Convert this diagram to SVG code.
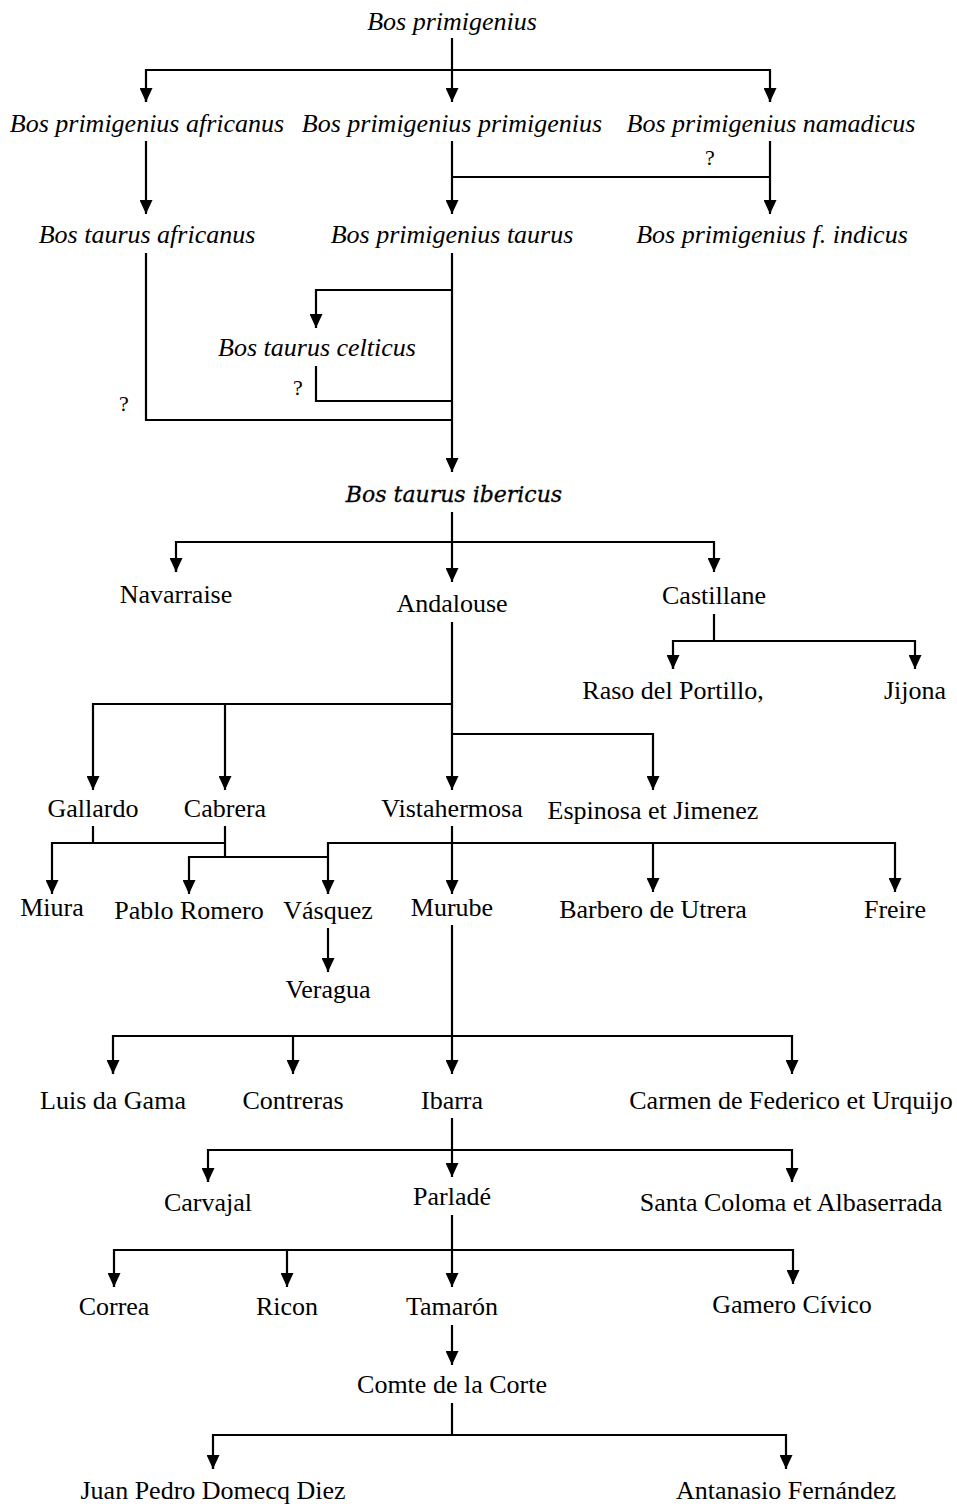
<svg xmlns="http://www.w3.org/2000/svg" width="957" height="1506" viewBox="0 0 957 1506">
<style>
text{font-family:"Liberation Serif","Times New Roman",serif;font-size:26px;fill:#000;text-anchor:middle}
.it{font-style:italic}
.ib{font-family:"DejaVu Serif",serif;font-style:italic;font-size:22px;stroke:#000;stroke-width:0.3}
.q{font-size:22px}
.c{fill:none;stroke:#000;stroke-width:2.2}
</style>
<defs>
<marker id="ah" viewBox="0 0 14 13" refX="14" refY="6.5" markerWidth="14" markerHeight="13" markerUnits="userSpaceOnUse" orient="auto">
<path d="M0,0 L14,6.5 L0,13 z" fill="#000"/>
</marker>
</defs>
<g id="connectors" class="c">
<path class="c" d="M452,38 V102" marker-end="url(#ah)"/>
<path class="c" d="M146,102 V70 H770 V102" />
<path class="c" d="M146,88 V102" marker-end="url(#ah)"/>
<path class="c" d="M770,88 V102" marker-end="url(#ah)"/>
<path class="c" d="M146,141 V214" marker-end="url(#ah)"/>
<path class="c" d="M452,141 V214" marker-end="url(#ah)"/>
<path class="c" d="M452,177 H770"/>
<path class="c" d="M770,141 V214" marker-end="url(#ah)"/>
<path class="c" d="M146,253 V420 H452"/>
<path class="c" d="M452,253 V472" marker-end="url(#ah)"/>
<path class="c" d="M452,290 H316 V328" marker-end="url(#ah)"/>
<path class="c" d="M316,366 V401 H452"/>
<path class="c" d="M452,512 V582" marker-end="url(#ah)"/>
<path class="c" d="M176,572 V542 H714 V572" marker-end="url(#ah)"/>
<path class="c" d="M176,558 V572" marker-end="url(#ah)"/>
<path class="c" d="M714,614 V641"/>
<path class="c" d="M673,669 V641 H915 V669" marker-end="url(#ah)"/>
<path class="c" d="M673,655 V669" marker-end="url(#ah)"/>
<path class="c" d="M452,622 V790" marker-end="url(#ah)"/>
<path class="c" d="M452,704 H93 V790" marker-end="url(#ah)"/>
<path class="c" d="M225,704 V790" marker-end="url(#ah)"/>
<path class="c" d="M452,734 H653 V790" marker-end="url(#ah)"/>
<path class="c" d="M93,826 V843"/>
<path class="c" d="M225,843 H52 V894" marker-end="url(#ah)"/>
<path class="c" d="M225,826 V857"/>
<path class="c" d="M328,857 H189 V894" marker-end="url(#ah)"/>
<path class="c" d="M452,826 V894" marker-end="url(#ah)"/>
<path class="c" d="M328,894 V843 H895 V892" marker-end="url(#ah)"/>
<path class="c" d="M328,880 V894" marker-end="url(#ah)"/>
<path class="c" d="M653,843 V892" marker-end="url(#ah)"/>
<path class="c" d="M328,928 V972" marker-end="url(#ah)"/>
<path class="c" d="M452,925 V1074" marker-end="url(#ah)"/>
<path class="c" d="M113,1074 V1036 H792 V1074" marker-end="url(#ah)"/>
<path class="c" d="M113,1060 V1074" marker-end="url(#ah)"/>
<path class="c" d="M293,1036 V1074" marker-end="url(#ah)"/>
<path class="c" d="M452,1118 V1177" marker-end="url(#ah)"/>
<path class="c" d="M208,1182 V1150 H792 V1182" marker-end="url(#ah)"/>
<path class="c" d="M208,1168 V1182" marker-end="url(#ah)"/>
<path class="c" d="M452,1215 V1287" marker-end="url(#ah)"/>
<path class="c" d="M114,1287 V1250 H793 V1284" marker-end="url(#ah)"/>
<path class="c" d="M114,1273 V1287" marker-end="url(#ah)"/>
<path class="c" d="M287,1250 V1287" marker-end="url(#ah)"/>
<path class="c" d="M452,1325 V1365" marker-end="url(#ah)"/>
<path class="c" d="M452,1403 V1435"/>
<path class="c" d="M213,1469 V1435 H786 V1469" marker-end="url(#ah)"/>
<path class="c" d="M213,1455 V1469" marker-end="url(#ah)"/>
</g>
<g id="q1"><text class="q" x="710" y="165">?</text></g>
<g id="q2"><text class="q" x="298" y="395">?</text></g>
<g id="q3"><text class="q" x="124" y="411">?</text></g>
<g id="n_primigenius"><text class="it" x="452" y="30">Bos primigenius</text></g>
<g id="n_africanus"><text class="it" x="147" y="132">Bos primigenius africanus</text></g>
<g id="n_pprimigenius"><text class="it" x="452" y="132">Bos primigenius primigenius</text></g>
<g id="n_namadicus"><text class="it" x="771" y="132">Bos primigenius namadicus</text></g>
<g id="n_taurus_africanus"><text class="it" x="147" y="243">Bos taurus africanus</text></g>
<g id="n_ptaurus"><text class="it" x="452" y="243">Bos primigenius taurus</text></g>
<g id="n_indicus"><text class="it" x="772" y="243">Bos primigenius f. indicus</text></g>
<g id="n_celticus"><text class="it" x="317" y="356">Bos taurus celticus</text></g>
<g id="n_ibericus"><text class="ib" x="454" y="502">Bos taurus ibericus</text></g>
<g id="n_navarraise"><text x="176" y="603">Navarraise</text></g>
<g id="n_andalouse"><text x="452" y="612">Andalouse</text></g>
<g id="n_castillane"><text x="714" y="604">Castillane</text></g>
<g id="n_raso"><text x="673" y="699">Raso del Portillo,</text></g>
<g id="n_jijona"><text x="915" y="699">Jijona</text></g>
<g id="n_gallardo"><text x="93" y="817">Gallardo</text></g>
<g id="n_cabrera"><text x="225" y="817">Cabrera</text></g>
<g id="n_vistahermosa"><text x="452" y="817">Vistahermosa</text></g>
<g id="n_espinosa"><text x="653" y="819">Espinosa et Jimenez</text></g>
<g id="n_miura"><text x="52" y="916">Miura</text></g>
<g id="n_pablo"><text x="189" y="919">Pablo Romero</text></g>
<g id="n_vasquez"><text x="328" y="919">Vásquez</text></g>
<g id="n_murube"><text x="452" y="916">Murube</text></g>
<g id="n_barbero"><text x="653" y="918">Barbero de Utrera</text></g>
<g id="n_freire"><text x="895" y="918">Freire</text></g>
<g id="n_veragua"><text x="328" y="998">Veragua</text></g>
<g id="n_luis"><text x="113" y="1109">Luis da Gama</text></g>
<g id="n_contreras"><text x="293" y="1109">Contreras</text></g>
<g id="n_ibarra"><text x="452" y="1109">Ibarra</text></g>
<g id="n_carmen"><text x="791" y="1109">Carmen de Federico et Urquijo</text></g>
<g id="n_carvajal"><text x="208" y="1211">Carvajal</text></g>
<g id="n_parlade"><text x="452" y="1205">Parladé</text></g>
<g id="n_santa"><text x="791" y="1211">Santa Coloma et Albaserrada</text></g>
<g id="n_correa"><text x="114" y="1315">Correa</text></g>
<g id="n_ricon"><text x="287" y="1315">Ricon</text></g>
<g id="n_tamaron"><text x="452" y="1315">Tamarón</text></g>
<g id="n_gamero"><text x="792" y="1313">Gamero Cívico</text></g>
<g id="n_comte"><text x="452" y="1393">Comte de la Corte</text></g>
<g id="n_juan"><text x="213" y="1499">Juan Pedro Domecq Diez</text></g>
<g id="n_antanasio"><text x="786" y="1499">Antanasio Fernández</text></g>
</svg>
